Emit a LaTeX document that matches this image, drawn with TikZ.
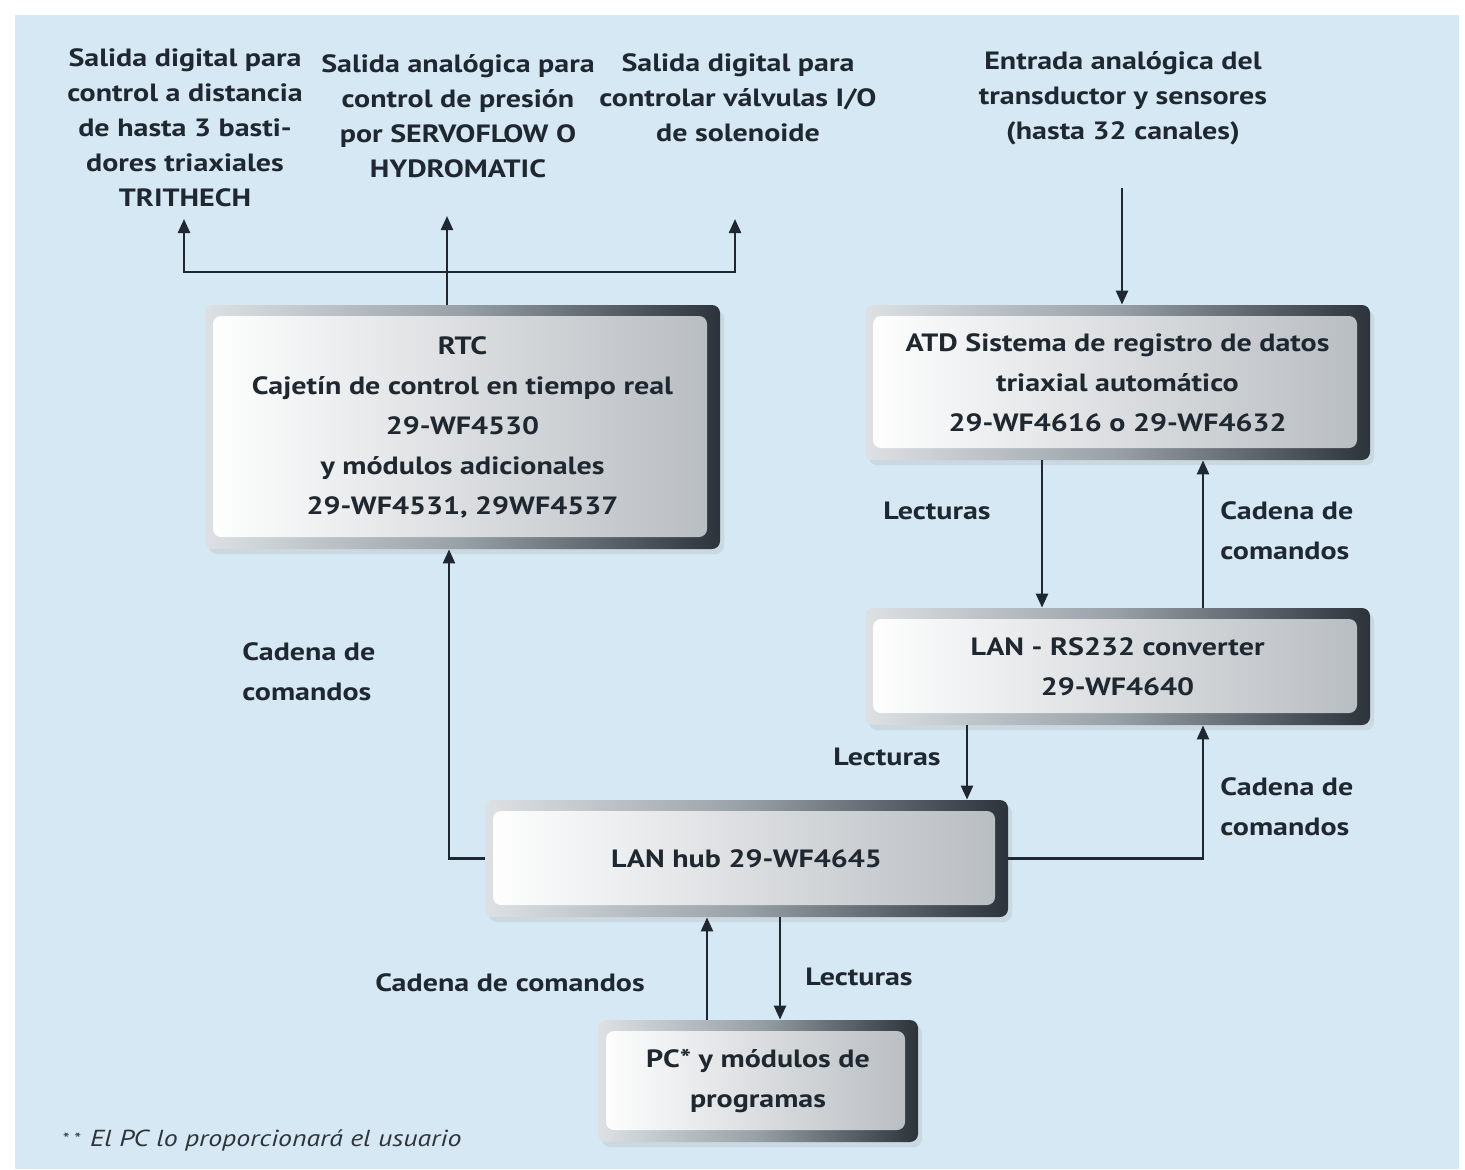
\documentclass[tikz,border=0pt]{standalone}
\usepackage{fontspec}
\setmainfont{PT Sans}[FakeStretch=1.2]
\usetikzlibrary{arrows.meta,shadows}
\definecolor{bgblue}{HTML}{D6E8F3}
\definecolor{ink}{HTML}{1F2830}
\definecolor{frlight}{HTML}{DDE1E4}
\definecolor{frmid}{HTML}{98A0A7}
\definecolor{frdark}{HTML}{2C333A}
\definecolor{inright}{HTML}{B7BCC1}
\definecolor{footc}{HTML}{2E343A}
\begin{document}
\begin{tikzpicture}[x=0.5pt,y=-0.5pt,
  boxnode/.style={rectangle, rounded corners=4pt, inner sep=0pt, align=center,
    font=\bfseries\fontsize{12.5}{20}\selectfont, text=ink,
    left color=frlight, right color=frdark, middle color=frmid,
    drop shadow={opacity=0.15, shadow xshift=2pt, shadow yshift=-2.5pt},
    path picture={\shade[left color=white, right color=inright]
      ([xshift=4pt,yshift=-5.5pt]path picture bounding box.north west) rectangle
      ([xshift=-6.5pt,yshift=6pt]path picture bounding box.south east);}},
  toplabel/.style={font=\bfseries\fontsize{12.5}{17.5}\selectfont, text=ink, align=center, inner sep=0pt},
  edgelabel/.style={font=\bfseries\fontsize{12.5}{20}\selectfont, text=ink, inner sep=0pt},
  conn/.style={draw=ink, line width=1.2pt},
  arr/.style={conn, -{Triangle[length=7pt,width=6pt]}}
]
% canvas
\useasboundingbox (0,0) rectangle (1465,1169);
\fill[white] (0,0) rectangle (1465,1169);
\fill[bgblue] (15,15) rectangle (1459,1169);

% top labels
\node[toplabel] (l1) at (185,128) {Salida digital para\\control a distancia\\de hasta 3 basti-\\dores triaxiales\\TRITHECH};
\node[toplabel] (l2) at (458,116) {Salida analógica para\\control de presión\\por SERVOFLOW O\\HYDROMATIC};
\node[toplabel] (l3) at (738,98) {Salida digital para\\controlar válvulas I/O\\de solenoide};
\node[toplabel] (l4) at (1123,98) {Entrada analógica del\\transductor y sensores\\(hasta 32 canales)};

% boxes
\node[boxnode, minimum width=515*0.5pt, minimum height=244*0.5pt] (rtc) at (462.5,427)
  {RTC\\Cajetín de control en tiempo real\\29-WF4530\\y módulos adicionales\\29-WF4531, 29WF4537};
\node[boxnode, minimum width=505*0.5pt, minimum height=155*0.5pt] (atd) at (1117.5,382.5)
  {ATD Sistema de registro de datos\\triaxial automático\\29-WF4616 o 29-WF4632};
\node[boxnode, minimum width=505*0.5pt, minimum height=117*0.5pt] (conv) at (1117.5,666.5)
  {LAN - RS232 converter\\29-WF4640};
\node[boxnode, minimum width=523*0.5pt, minimum height=117*0.5pt] (hub) at (746.5,858.5)
  {LAN hub 29-WF4645};
\node[boxnode, minimum width=320*0.5pt, minimum height=122*0.5pt] (pc) at (758,1081)
  {PC* y módulos de\\programas};

% helper coordinates
\coordinate (j) at (447,272);
\coordinate (ta) at (184,219);
\coordinate (tb) at (447,216);
\coordinate (tc) at (735,219);
\coordinate (td) at (1122,188);
\coordinate (xa) at (1042,0);
\coordinate (xb) at (1203,0);
\coordinate (xc) at (967,0);
\coordinate (xd) at (449,0);
\coordinate (xe) at (707,0);
\coordinate (xf) at (780,0);

% connectors
\draw[arr] (rtc.north -| tb) -- (tb);
\draw[arr] (j) -| (ta);
\draw[arr] (j) -| (tc);
\draw[arr] (td) -- (atd.north -| td);
\draw[arr] (atd.south -| xa) -- (conv.north -| xa);
\draw[arr] (conv.north -| xb) -- (atd.south -| xb);
\draw[arr] (conv.south -| xc) -- (hub.north -| xc);
\draw[arr] (hub.east) -| (conv.south -| xb);
\draw[arr] (hub.west) -| (rtc.south -| xd);
\draw[arr] (pc.north -| xe) -- (hub.south -| xe);
\draw[arr] (hub.south -| xf) -- (pc.north -| xf);

% edge labels
\node[edgelabel] (e1) at (937,511) {Lecturas};
\node[edgelabel, align=left, anchor=west] (e2) at (1220,531) {Cadena de\\comandos};
\node[edgelabel, align=left, anchor=west] (e3) at (242,672) {Cadena de\\comandos};
\node[edgelabel] (e4) at (887,757) {Lecturas};
\node[edgelabel, align=left, anchor=west] (e5) at (1220,807) {Cadena de\\comandos};
\node[edgelabel] (e6) at (510,983) {Cadena de comandos};
\node[edgelabel, anchor=west] (e7) at (805,977) {Lecturas};

% footnote
\node[anchor=west, inner sep=0pt, text=footc, font=\itshape\fontsize{11.6}{13}\selectfont] (fn) at (62,1140)
  {\raisebox{0.15ex}{\footnotesize *\hspace{2.5pt}*}\hspace{5pt}El PC lo proporcionará el usuario};
\end{tikzpicture}
\end{document}
